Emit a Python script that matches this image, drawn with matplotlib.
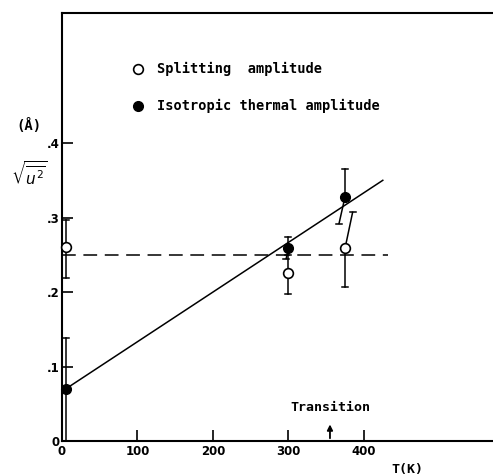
import matplotlib
matplotlib.use("Agg")
import matplotlib.pyplot as plt
import numpy as np

# Data
T_split = [5, 300, 375]
u_split = [0.26, 0.225, 0.259]
split_lo = [0.219, 0.198, 0.207]
split_hi = [0.297, 0.25, 0.307]
split_hi_T = [5, 300, 385]

T_iso = [5, 300, 375]
u_iso = [0.07, 0.259, 0.328]
iso_lo = [0.0, 0.245, 0.292]
iso_hi = [0.138, 0.274, 0.365]
iso_lo_T = [5, 297, 367]

fit_T = [5, 425]
fit_u = [0.07, 0.35]
mean_T = [0, 432]
mean_u = [0.25, 0.25]

transition_T = 355

xticks = [0, 100, 200, 300, 400]
xticklabels = ["0", "100", "200", "300", "400"]
yticks = [0, 0.1, 0.2, 0.3, 0.4]
yticklabels = ["0", ".1", ".2", ".3", ".4"]

MONO = "DejaVu Sans Mono"

fig = plt.figure(figsize=(4.93, 4.76), dpi=100)
ax = fig.add_axes([0.1258, 0.0735, 0.8742, 0.899])
ax.set_xlim(0, 571)
ax.set_ylim(0, 0.5745)

lw = 1.1
# fit line and dashed mean
ax.plot(fit_T, fit_u, color="black", lw=lw)
ax.plot(mean_T, mean_u, color="black", lw=lw, dashes=(9, 5))

capw = 4.0  # half-width of caps in T units
def ebar(x0, y0, x1, y1):
    ax.plot([x0, x1], [y0, y1], color="black", lw=lw, clip_on=False)
    ax.plot([x1 - capw, x1 + capw], [y1, y1], color="black", lw=lw, clip_on=False)

for t, u, lo, hi, ht in zip(T_split, u_split, split_lo, split_hi, split_hi_T):
    ebar(t, u, ht, hi)
    ebar(t, u, t, lo)
for t, u, lo, hi, lt in zip(T_iso, u_iso, iso_lo, iso_hi, iso_lo_T):
    ebar(t, u, t, hi)
    ebar(t, u, lt, lo)

ax.plot(T_split, u_split, "o", ms=7, mfc="white", mec="black", mew=1.2, clip_on=False, zorder=5)
ax.plot(T_iso, u_iso, "o", ms=7, mfc="black", mec="black", clip_on=False, zorder=5)

# transition arrow
ax.annotate("", xy=(transition_T, 0.026), xytext=(transition_T, 0.0),
            arrowprops=dict(arrowstyle="-|>", color="black", lw=1.3, mutation_scale=8))
ax.text(transition_T, 0.045, "Transition", ha="center", va="center",
        fontsize=9.5, fontweight="bold", family=MONO)

# axes styling
ax.spines["right"].set_visible(False)
for s in ["left", "bottom", "top"]:
    ax.spines[s].set_linewidth(1.5)
ax.set_xticks(xticks)
ax.set_xticklabels(xticklabels, fontsize=8.5, fontweight="bold")
ax.set_yticks(yticks)
ax.set_yticklabels(yticklabels, fontsize=8.5, fontweight="bold")
ax.tick_params(direction="in", length=8, width=1.2, pad=3)
ax.tick_params(axis="y", pad=2)

ax.text(458, -0.038, "T(K)", ha="center", va="center", fontsize=9.5, fontweight="bold",
        family=MONO, clip_on=False)
ax.text(-44, 0.423, "(Å)", ha="center", va="center", fontsize=10, fontweight="bold",
        family=MONO, clip_on=False)
ax.text(-44, 0.358, r"$\sqrt{\overline{u^2}}$", ha="center", va="center", fontsize=11, clip_on=False)

# legend
ax.plot([101], [0.499], "o", ms=7, mfc="white", mec="black", mew=1.2)
ax.plot([101], [0.450], "o", ms=7, mfc="black", mec="black")
ax.text(126, 0.499, "Splitting  amplitude", va="center", fontsize=9.8, fontweight="bold", family=MONO)
ax.text(126, 0.450, "Isotropic thermal amplitude", va="center", fontsize=9.8, fontweight="bold", family=MONO)

fig.savefig("out.png", dpi=100)
